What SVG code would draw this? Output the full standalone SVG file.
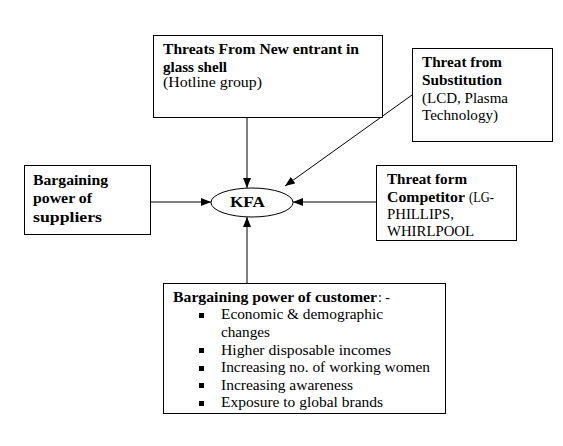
<svg xmlns="http://www.w3.org/2000/svg" width="563" height="446" viewBox="0 0 563 446">
<defs>
<marker id="ah" markerWidth="10" markerHeight="8" refX="10" refY="4" orient="auto" markerUnits="userSpaceOnUse">
<path d="M0,0 L10,4 L0,8 Z" fill="#000"/>
</marker>
<style>
.box{fill:#fff;stroke:#000;stroke-width:1}
.t{font-family:"Liberation Serif","DejaVu Serif","Times New Roman",serif;font-size:15px;fill:#000}
.b{font-weight:bold;font-size:14px}
.c{stroke:#000;stroke-width:1;fill:none;marker-end:url(#ah)}
</style>
</defs>
<rect width="563" height="446" fill="#fff"/>
<g id="connectors">
<line class="c" x1="247" y1="117" x2="247" y2="188"/>
<line class="c" x1="412" y1="95" x2="285" y2="186"/>
<line class="c" x1="150" y1="202" x2="211" y2="202"/>
<line class="c" x1="376" y1="202" x2="293" y2="202"/>
<line class="c" x1="247" y1="283" x2="247" y2="217"/>
</g>
<g id="new-entrant">
<rect class="box" x="153.5" y="35.5" width="229" height="82"/>
<text class="t b" x="163" y="54" textLength="196" lengthAdjust="spacingAndGlyphs">Threats From New entrant in</text>
<text class="t b" x="163" y="72" textLength="64" lengthAdjust="spacingAndGlyphs">glass shell</text>
<text class="t" x="163" y="87" textLength="99" lengthAdjust="spacingAndGlyphs">(Hotline group)</text>
</g>
<g id="substitution">
<rect class="box" x="412.5" y="48.5" width="140" height="93"/>
<text class="t b" x="422" y="67" textLength="80" lengthAdjust="spacingAndGlyphs">Threat from</text>
<text class="t b" x="422" y="85" textLength="80" lengthAdjust="spacingAndGlyphs">Substitution</text>
<text class="t" x="422" y="103" textLength="86" lengthAdjust="spacingAndGlyphs">(LCD, Plasma</text>
<text class="t" x="422" y="120" textLength="76" lengthAdjust="spacingAndGlyphs">Technology)</text>
</g>
<g id="suppliers">
<rect class="box" x="24.5" y="165.5" width="126" height="69"/>
<text class="t b" x="33" y="185" textLength="75" lengthAdjust="spacingAndGlyphs">Bargaining</text>
<text class="t b" x="33" y="203" textLength="59" lengthAdjust="spacingAndGlyphs">power of</text>
<text class="t b" x="33" y="222" textLength="69" lengthAdjust="spacingAndGlyphs">suppliers</text>
</g>
<g id="kfa">
<ellipse class="box" cx="252" cy="202.5" rx="41" ry="14.5"/>
<text class="t b" x="230" y="207" textLength="35" lengthAdjust="spacingAndGlyphs">KFA</text>
</g>
<g id="competitor">
<rect class="box" x="376.5" y="165.5" width="140" height="75"/>
<text class="t b" x="387" y="184" textLength="80" lengthAdjust="spacingAndGlyphs">Threat form</text>
<text class="t b" x="387" y="202" textLength="78" lengthAdjust="spacingAndGlyphs">Competitor</text>
<text class="t" x="469" y="202" textLength="25" lengthAdjust="spacingAndGlyphs">(LG-</text>
<text class="t" x="387" y="219" textLength="67" lengthAdjust="spacingAndGlyphs">PHILLIPS,</text>
<text class="t" x="387" y="236" textLength="87" lengthAdjust="spacingAndGlyphs">WHIRLPOOL</text>
</g>
<g id="customer">
<rect class="box" x="163.5" y="283.5" width="282" height="130"/>
<text class="t b" x="173" y="302" textLength="204" lengthAdjust="spacingAndGlyphs">Bargaining power of customer</text>
<text class="t" x="378" y="302" textLength="12" lengthAdjust="spacingAndGlyphs">: -</text>
<g fill="#000">
<rect x="199" y="313" width="5" height="5"/>
<rect x="199" y="348" width="5" height="5"/>
<rect x="199" y="366" width="5" height="5"/>
<rect x="199" y="383" width="5" height="5"/>
<rect x="199" y="401" width="5" height="5"/>
</g>
<text class="t" x="221" y="319" textLength="162" lengthAdjust="spacingAndGlyphs">Economic &amp; demographic</text>
<text class="t" x="221" y="337" textLength="49" lengthAdjust="spacingAndGlyphs">changes</text>
<text class="t" x="221" y="355" textLength="170" lengthAdjust="spacingAndGlyphs">Higher disposable incomes</text>
<text class="t" x="221" y="372" textLength="209" lengthAdjust="spacingAndGlyphs">Increasing no. of working women</text>
<text class="t" x="221" y="390" textLength="132" lengthAdjust="spacingAndGlyphs">Increasing awareness</text>
<text class="t" x="221" y="407" textLength="162" lengthAdjust="spacingAndGlyphs">Exposure to global brands</text>
</g>
</svg>
